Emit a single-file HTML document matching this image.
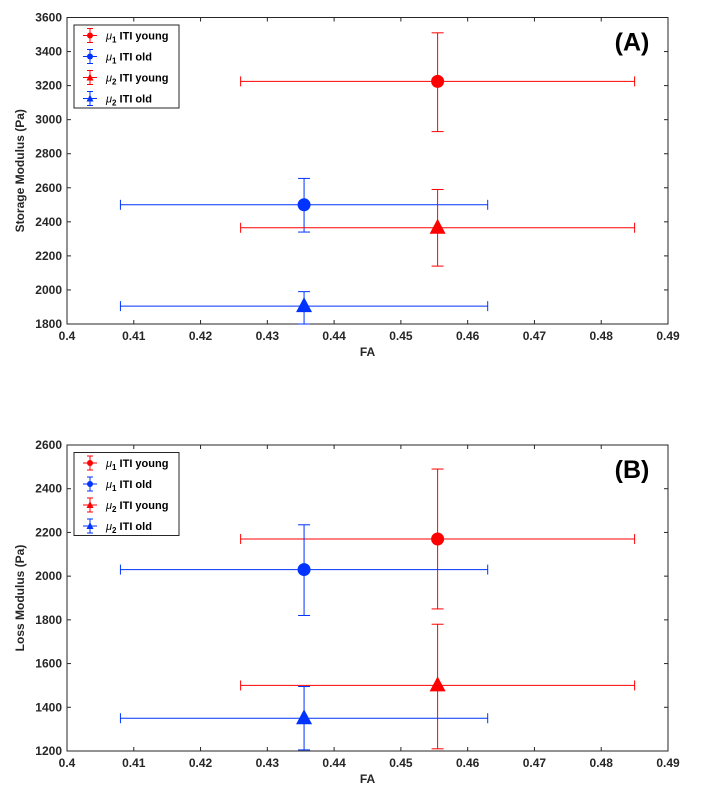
<!DOCTYPE html>
<html><head><meta charset="utf-8"><style>
body{margin:0;background:#fff;width:701px;height:798px;overflow:hidden;font-family:"Liberation Sans",sans-serif}
svg text{font-family:"Liberation Sans",sans-serif}
</style></head><body>
<svg id="chart" width="701" height="798"></svg>
<script>
const seriesNames=["μ1 ITI young","μ1 ITI old","μ2 ITI young","μ2 ITI old"];
const seriesColors=["#ff0000","#0033ff","#ff0000","#0033ff"];
const seriesMarkers=["circle","circle","triangle","triangle"];
const faX=[0.4555,0.4355,0.4555,0.4355];
const faLo=[0.426,0.408,0.426,0.408];
const faHi=[0.485,0.463,0.485,0.463];
const storageY=[3225,2500,2365,1905];
const storageLo=[2930,2340,2140,1800];
const storageHi=[3510,2655,2590,1990];
const lossY=[2170,2030,1500,1350];
const lossLo=[1850,1820,1210,1205];
const lossHi=[2490,2235,1780,1495];
const xTicks=[0.4,0.41,0.42,0.43,0.44,0.45,0.46,0.47,0.48,0.49];
const storageTicks=[1800,2000,2200,2400,2600,2800,3000,3200,3400,3600];
const lossTicks=[1200,1400,1600,1800,2000,2200,2400,2600];

const NS="http://www.w3.org/2000/svg";
const svg=document.getElementById('chart');
function mk(tag,attrs,parent){const e=document.createElementNS(NS,tag);for(const k in attrs)e.setAttribute(k,attrs[k]);(parent||svg).appendChild(e);return e;}

function panel(cfg){
  const g=mk('g',{});
  
  
  const L=67,R=668,T=cfg.top,B=cfg.bottom;
  const xs=v=>L+(v-0.4)/(0.09)*(R-L);
  const ys=v=>B-(v-cfg.ymin)/(cfg.ymax-cfg.ymin)*(B-T);
  mk('rect',{x:L,y:T,width:R-L,height:B-T,fill:'#fff',stroke:'#262626','stroke-width':1},g);
  xTicks.forEach(t=>{const x=xs(t);
    mk('line',{x1:x,x2:x,y1:B,y2:B-4,stroke:'#262626'},g);
    mk('line',{x1:x,x2:x,y1:T,y2:T+4,stroke:'#262626'},g);
    const tx=mk('text',{x:x,y:B+16,'text-anchor':'middle','font-size':12,'font-weight':'bold',fill:'#262626'},g);
    tx.textContent=String(t);
    
    });
  cfg.ticks.forEach(t=>{const y=ys(t);
    mk('line',{x1:L,x2:L+4,y1:y,y2:y,stroke:'#262626'},g);
    mk('line',{x1:R,x2:R-4,y1:y,y2:y,stroke:'#262626'},g);
    const tx=mk('text',{x:L-5,y:y+4,'text-anchor':'end','font-size':12,'font-weight':'bold',fill:'#262626'},g);
    tx.textContent=String(t);
    
    });
  const xl=mk('text',{x:(L+R)/2,y:B+32,'text-anchor':'middle','font-size':12,'font-weight':'bold',fill:'#262626'},g);
  xl.textContent='FA';
  
  
  const ym=(T+B)/2;
  const yl=mk('text',{x:24,y:ym,transform:`rotate(-90 24 ${ym})`,'text-anchor':'middle','font-size':12,'font-weight':'bold',fill:'#262626'},g);
  yl.textContent=cfg.ylabel;
  
  
  const pl=mk('text',{x:632,y:T+33,'text-anchor':'middle','font-size':25,'font-weight':'bold',fill:'#000'},g);
  pl.textContent=cfg.label;
  
  
  for(let i=0;i<4;i++){
    const c=seriesColors[i];
    const sg=mk('g',{},g);
    
    
    const x=xs(faX[i]),y=ys(cfg.y[i]);
    const x1=xs(faLo[i]),x2=xs(faHi[i]),y1=ys(cfg.lo[i]),y2=ys(cfg.hi[i]);
    mk('line',{x1:x1,x2:x2,y1:y,y2:y,stroke:c,'stroke-width':1},sg);
    mk('line',{x1:x1,x2:x1,y1:y-5,y2:y+5,stroke:c},sg);
    mk('line',{x1:x2,x2:x2,y1:y-5,y2:y+5,stroke:c},sg);
    mk('line',{x1:x,x2:x,y1:y1,y2:y2,stroke:c},sg);
    mk('line',{x1:x-6,x2:x+6,y1:y1,y2:y1,stroke:c},sg);
    mk('line',{x1:x-6,x2:x+6,y1:y2,y2:y2,stroke:c},sg);
    let m;
    if(seriesMarkers[i]==='circle') m=mk('circle',{cx:x,cy:y,r:6.5,fill:c},sg);
    else m=mk('polygon',{points:`${x},${y-9} ${x-8},${y+6} ${x+8},${y+6}`,fill:c},sg);
    
    
  }
  const lg=mk('g',{},g);
  
  
  mk('rect',{x:74,y:T+7.5,width:105,height:83,fill:'#fff',stroke:'#262626'},lg);
  for(let i=0;i<4;i++){
    const c=seriesColors[i],ly=T+18+i*21,lx=90;
    mk('line',{x1:lx-7,x2:lx+7,y1:ly,y2:ly,stroke:c},lg);
    mk('line',{x1:lx,x2:lx,y1:ly-7,y2:ly+7,stroke:c},lg);
    mk('line',{x1:lx-3,x2:lx+3,y1:ly-7,y2:ly-7,stroke:c},lg);
    mk('line',{x1:lx-3,x2:lx+3,y1:ly+7,y2:ly+7,stroke:c},lg);
    if(seriesMarkers[i]==='circle') mk('circle',{cx:lx,cy:ly,r:3,fill:c},lg);
    else mk('polygon',{points:`${lx},${ly-4} ${lx-3.5},${ly+3} ${lx+3.5},${ly+3}`,fill:c},lg);
    const t=mk('text',{x:106,y:ly+4,'font-size':11,'font-weight':'bold',fill:'#000'},lg);
    t.innerHTML=`<tspan font-style="italic" font-weight="normal">μ</tspan><tspan font-size="8" dy="3">${seriesNames[i][1]}</tspan><tspan dy="-3"> ${seriesNames[i].slice(3)}</tspan>`;
    
    
  }
}
panel({name:'storage-panel',top:17.5,bottom:324,ymin:1800,ymax:3600,ticks:storageTicks,ylabel:'Storage Modulus (Pa)',label:'(A)',y:storageY,lo:storageLo,hi:storageHi});
panel({name:'loss-panel',top:445,bottom:751,ymin:1200,ymax:2600,ticks:lossTicks,ylabel:'Loss Modulus (Pa)',label:'(B)',y:lossY,lo:lossLo,hi:lossHi});
</script>
</body></html>
